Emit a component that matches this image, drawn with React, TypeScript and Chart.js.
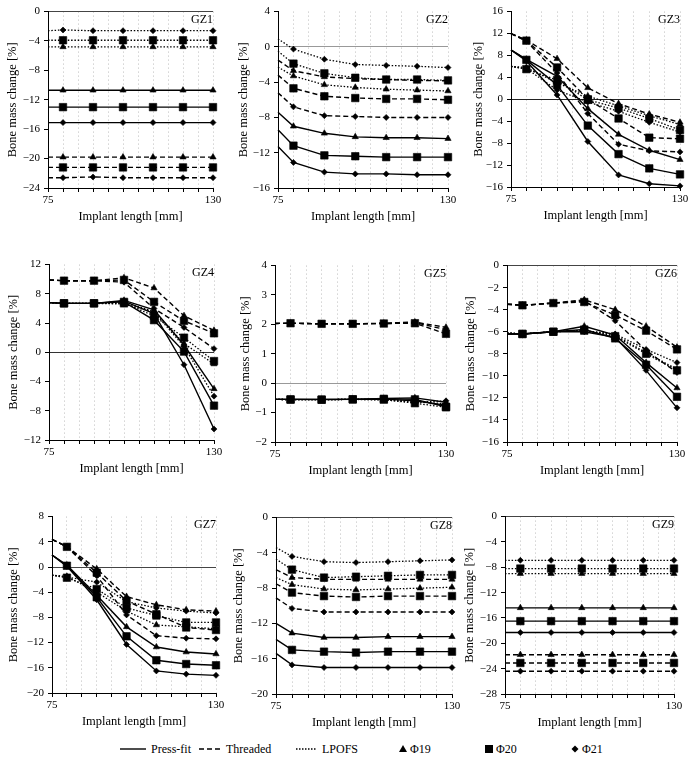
import React, { useEffect, useRef } from 'react';
import { Chart, registerables } from 'chart.js';

Chart.register(...registerables);

// ---------------- data ----------------
const xValues = [75, 80, 90, 100, 110, 120, 130];
const xTickLabels = [75, 130];
const styleNames = ['Press-fit', 'Threaded', 'LPOFS'];
const diameterNames = ['Φ19', 'Φ20', 'Φ21'];

// each group: [Φ19, Φ20, Φ21]
const gz1Press = [
  [-10.7, -10.7, -10.7, -10.7, -10.7, -10.7, -10.7],
  [-13.0, -13.0, -13.0, -13.0, -13.0, -13.0, -13.0],
  [-15.1, -15.1, -15.1, -15.1, -15.1, -15.1, -15.1],
];
const gz1Threaded = [
  [-19.8, -19.8, -19.8, -19.8, -19.8, -19.8, -19.8],
  [-21.2, -21.2, -21.2, -21.2, -21.2, -21.2, -21.2],
  [-22.6, -22.6, -22.5, -22.6, -22.6, -22.6, -22.6],
];
const gz1Lpofs = [
  [-4.8, -4.8, -4.8, -4.8, -4.8, -4.8, -4.8],
  [-3.9, -3.9, -3.9, -3.9, -3.9, -3.9, -3.9],
  [-2.6, -2.5, -2.6, -2.6, -2.6, -2.6, -2.6],
];

const gz2Press = [
  [-7.4, -9.0, -9.8, -10.2, -10.3, -10.3, -10.4],
  [-9.4, -11.2, -12.3, -12.4, -12.5, -12.5, -12.5],
  [-11.3, -13.1, -14.2, -14.4, -14.4, -14.5, -14.5],
];
const gz2Threaded = [
  [-1.5, -2.7, -3.4, -3.6, -3.7, -3.8, -3.85],
  [-3.2, -4.7, -5.6, -5.8, -5.9, -5.9, -6.0],
  [-5.2, -6.8, -7.8, -7.9, -8.0, -8.0, -8.0],
];
const gz2Lpofs = [
  [-2.3, -3.3, -4.3, -4.6, -4.8, -4.9, -5.0],
  [-0.5, -1.9, -3.0, -3.5, -3.7, -3.7, -3.8],
  [0.9, -0.25, -1.4, -2.0, -2.1, -2.2, -2.35],
];

const gz3Press = [
  [9.0, 7.3, 4.2, -1.7, -6.4, -9.3, -11.0],
  [9.0, 7.2, 2.6, -4.8, -10.0, -12.6, -13.7],
  [9.0, 7.0, 0.8, -7.7, -13.8, -15.4, -15.8],
];
const gz3Threaded = [
  [12.0, 10.8, 7.4, 2.1, -0.8, -2.7, -4.2],
  [12.0, 10.7, 5.8, 0.0, -3.5, -7.0, -7.2],
  [12.0, 10.6, 4.8, -2.6, -8.2, -9.4, -9.6],
];
const gz3Lpofs = [
  [6.0, 5.8, 3.0, 0.6, -1.2, -3.0, -4.6],
  [6.0, 5.5, 3.5, -0.1, -1.6, -3.5, -5.6],
  [6.0, 5.6, 1.7, -0.5, -2.2, -4.2, -6.0],
];

const gz4Press = [
  [6.8, 6.7, 6.7, 7.1, 5.8, 1.0, -5.0],
  [6.8, 6.7, 6.7, 6.9, 4.4, 0.1, -7.3],
  [6.8, 6.7, 6.7, 7.0, 5.3, -1.7, -10.5],
];
const gz4Threaded = [
  [9.9, 9.8, 9.8, 10.2, 8.8, 5.0, 3.0],
  [9.9, 9.8, 9.8, 9.9, 6.9, 4.3, 2.6],
  [9.9, 9.8, 9.8, 9.6, 6.0, 3.4, 0.5],
];
const gz4Lpofs = [
  [6.8, 6.7, 6.7, 6.8, 5.6, 1.2, -1.6],
  [6.8, 6.7, 6.7, 6.7, 5.0, 2.0, -1.2],
  [6.8, 6.7, 6.7, 6.6, 5.5, 0.8, -6.0],
];

const gz5Press = [
  [-0.55, -0.55, -0.55, -0.55, -0.52, -0.5, -0.65],
  [-0.55, -0.55, -0.56, -0.55, -0.53, -0.55, -0.8],
  [-0.55, -0.55, -0.55, -0.55, -0.54, -0.6, -0.75],
];
const gz5Threaded = [
  [2.03, 2.04, 2.02, 2.02, 2.04, 2.08, 1.9],
  [2.03, 2.04, 2.02, 2.02, 2.03, 2.04, 1.68],
  [2.03, 2.04, 2.02, 2.02, 2.03, 2.06, 1.82],
];
const gz5Lpofs = [
  [-0.55, -0.56, -0.56, -0.55, -0.55, -0.62, -0.7],
  [-0.55, -0.56, -0.56, -0.55, -0.56, -0.68, -0.82],
  [-0.55, -0.56, -0.56, -0.55, -0.57, -0.65, -0.6],
];

const gz6Press = [
  [-6.2, -6.2, -6.0, -5.5, -6.3, -8.8, -11.1],
  [-6.2, -6.2, -6.0, -5.8, -6.6, -9.0, -11.9],
  [-6.2, -6.2, -6.0, -6.0, -6.5, -9.5, -12.9],
];
const gz6Threaded = [
  [-3.5, -3.6, -3.4, -3.1, -4.0, -5.5, -7.4],
  [-3.5, -3.6, -3.4, -3.3, -4.5, -5.9, -7.6],
  [-3.5, -3.6, -3.4, -3.2, -5.0, -7.7, -9.7],
];
const gz6Lpofs = [
  [-6.1, -6.2, -6.0, -5.9, -6.3, -7.9, -9.4],
  [-6.1, -6.2, -6.0, -5.9, -6.4, -8.0, -9.5],
  [-6.1, -6.2, -6.0, -5.9, -6.2, -7.6, -8.8],
];

const gz7Press = [
  [1.9, 0.3, -4.5, -9.5, -12.7, -13.5, -13.8],
  [1.9, 0.2, -4.8, -11.0, -14.8, -15.4, -15.6],
  [1.9, 0.1, -5.2, -12.3, -16.5, -17.0, -17.2],
];
const gz7Threaded = [
  [4.4, 3.2, -0.3, -4.7, -6.0, -6.8, -7.0],
  [4.4, 3.2, -0.9, -5.4, -7.5, -9.6, -10.0],
  [4.4, 3.2, -1.4, -7.6, -10.9, -11.3, -11.4],
];
const gz7Lpofs = [
  [-1.3, -1.5, -4.0, -7.0, -9.2, -9.5, -9.8],
  [-1.3, -1.7, -3.5, -6.5, -7.7, -8.8, -8.8],
  [-1.3, -1.6, -2.4, -5.5, -6.5, -7.0, -7.3],
];

const gz8Press = [
  [-12.0, -13.1, -13.6, -13.6, -13.5, -13.5, -13.5],
  [-13.8, -15.0, -15.2, -15.3, -15.2, -15.2, -15.2],
  [-15.4, -16.7, -17.0, -17.0, -17.0, -17.0, -17.0],
];
const gz8Threaded = [
  [-5.9, -6.8, -7.0, -7.0, -7.0, -7.0, -7.0],
  [-7.5, -8.5, -8.9, -9.0, -8.9, -8.9, -8.9],
  [-9.1, -10.3, -10.7, -10.7, -10.7, -10.7, -10.7],
];
const gz8Lpofs = [
  [-6.8, -7.6, -8.1, -8.2, -8.1, -8.0, -7.9],
  [-4.7, -5.9, -6.8, -6.7, -6.6, -6.5, -6.5],
  [-3.4, -4.4, -5.0, -5.1, -5.0, -4.9, -4.8],
];

const gz9Press = [
  [-14.4, -14.4, -14.4, -14.4, -14.4, -14.4, -14.4],
  [-16.5, -16.5, -16.5, -16.5, -16.5, -16.5, -16.5],
  [-18.3, -18.3, -18.3, -18.3, -18.3, -18.3, -18.3],
];
const gz9Threaded = [
  [-21.8, -21.8, -21.8, -21.8, -21.8, -21.8, -21.8],
  [-23.1, -23.1, -23.1, -23.1, -23.1, -23.1, -23.1],
  [-24.4, -24.4, -24.4, -24.4, -24.4, -24.4, -24.4],
];
const gz9Lpofs = [
  [-9.0, -9.0, -9.0, -9.0, -9.0, -9.0, -9.0],
  [-8.2, -8.2, -8.2, -8.2, -8.2, -8.2, -8.2],
  [-6.9, -6.9, -6.9, -6.9, -6.9, -6.9, -6.9],
];

const panelNames = ['GZ1', 'GZ2', 'GZ3', 'GZ4', 'GZ5', 'GZ6', 'GZ7', 'GZ8', 'GZ9'];
const panelSeries = [
  [gz1Press, gz1Threaded, gz1Lpofs],
  [gz2Press, gz2Threaded, gz2Lpofs],
  [gz3Press, gz3Threaded, gz3Lpofs],
  [gz4Press, gz4Threaded, gz4Lpofs],
  [gz5Press, gz5Threaded, gz5Lpofs],
  [gz6Press, gz6Threaded, gz6Lpofs],
  [gz7Press, gz7Threaded, gz7Lpofs],
  [gz8Press, gz8Threaded, gz8Lpofs],
  [gz9Press, gz9Threaded, gz9Lpofs],
];
// y axis [min, max, step]
const yRanges = [
  [-24, 0, 4], [-16, 4, 4], [-16, 16, 4],
  [-12, 12, 4], [-2, 4, 1], [-16, 0, 2],
  [-20, 8, 4], [-20, 0, 4], [-28, 0, 4],
];

// ---------------- layout / style ----------------
const FONT = '"Liberation Serif", "Times New Roman", serif';
// plot area rectangles [left, top, right, bottom] and y-title centre x
const plotRects = [
  [48, 11, 213, 188, 12], [278, 11, 448, 188, 243], [511, 11, 680, 187, 478],
  [49, 264, 214, 440, 13], [275, 265, 446, 442, 245], [507, 265, 677, 442, 470],
  [52, 516, 216, 693, 13], [276, 517, 452, 694, 238], [505, 516, 674, 694, 469],
];
const zeroColors = ['#444', '#999', '#222', '#333', '#999', '#444', '#444', '#444', '#444'];
const lineDashes = [[], [5, 3], [1.5, 1.8]];
const lineWidths = [1.4, 1.4, 1.3];
const markerStyles = ['triangle', 'rect', 'rectRot'];
const markerRadii = [3.6, 5.3, 3.0];

const PAD_TOP = 10;
const PAD_RIGHT = 14;
const X_AXIS_H = 40;
const TITLE_FONT = 12.5;
const TICK_FONT = 11;

const fmt = (v: number) => (v < 0 ? '\u2212' + Math.abs(v) : String(v));

const gzLabelPlugin = {
  id: 'gzLabel',
  afterDraw(chart: any, _args: any, opts: any) {
    const { ctx, chartArea } = chart;
    ctx.save();
    ctx.font = `12px ${FONT}`;
    ctx.fillStyle = '#000';
    ctx.textAlign = 'right';
    ctx.textBaseline = 'middle';
    ctx.fillText(opts.text, chartArea.right, chartArea.top + 8);
    ctx.restore();
  },
};

function Panel({ idx }: { idx: number }) {
  const ref = useRef<HTMLCanvasElement>(null);
  const [pl, pt, pr, pb, tx] = plotRects[idx];
  const titleOffset = 2 + (TITLE_FONT * 1.2) / 2;
  const left = Math.round(tx - titleOffset);
  const top = pt - PAD_TOP;
  const width = pr + PAD_RIGHT - left;
  const height = pb - top + X_AXIS_H;
  const yAxisW = pl - left;

  useEffect(() => {
    const datasets: any[] = [];
    panelSeries[idx].forEach((group, si) => {
      group.forEach((vals, di) => {
        datasets.push({
          label: `${styleNames[si]} ${diameterNames[di]}`,
          data: vals.map((v, i) => ({ x: xValues[i], y: v })),
          borderColor: '#000',
          backgroundColor: '#000',
          borderWidth: lineWidths[si],
          borderDash: lineDashes[si],
          pointStyle: markerStyles[di],
          pointRadius: (c: any) => (c.dataIndex === 0 ? 0 : markerRadii[di]),
          pointBorderWidth: 0.6,
          pointBorderColor: '#000',
          pointBackgroundColor: '#000',
          tension: 0,
          clip: false,
        });
      });
    });
    const [yMin, yMax, yStep] = yRanges[idx];
    const chart = new Chart(ref.current as HTMLCanvasElement, {
      type: 'line',
      data: { datasets },
      plugins: [gzLabelPlugin],
      options: {
        animation: false,
        responsive: false,
        events: [],
        layout: { padding: { top: PAD_TOP, right: PAD_RIGHT, left: 0, bottom: 0 } },
        plugins: {
          legend: { display: false },
          tooltip: { enabled: false },
          gzLabel: { text: panelNames[idx] },
        } as any,
        scales: {
          x: {
            type: 'linear',
            min: 75,
            max: 130,
            ticks: {
              stepSize: 5,
              autoSkip: false,
              maxRotation: 0,
              padding: 2,
              color: '#000',
              font: { family: FONT, size: TICK_FONT },
              callback: (v: any) => (xTickLabels.includes(v) ? String(v) : ''),
            },
            grid: {
              drawOnChartArea: true,
              color: (c: any) => (c.tick && c.tick.value === 75 ? 'rgba(0,0,0,0)' : '#b4b4b4'),
              lineWidth: 0.9,
              tickColor: '#000',
              tickLength: 4,
              tickWidth: 1,
              tickBorderDash: [],
            },
            border: { display: true, color: '#000', width: 1, dash: [1, 3] },
            title: {
              display: true,
              text: 'Implant length [mm]',
              color: '#000',
              font: { family: FONT, size: TITLE_FONT },
              padding: { top: 2, bottom: 4 },
            },
            afterFit: (s: any) => {
              s.height = X_AXIS_H;
            },
          },
          y: {
            type: 'linear',
            min: yMin,
            max: yMax,
            ticks: {
              stepSize: yStep,
              padding: 4,
              color: '#000',
              font: { family: FONT, size: TICK_FONT },
              callback: (v: any) => fmt(v),
            },
            grid: {
              drawOnChartArea: true,
              color: (c: any) => (c.tick && c.tick.value === 0 ? zeroColors[idx] : 'rgba(0,0,0,0)'),
              lineWidth: 1,
              tickColor: '#000',
              tickLength: 4,
              tickWidth: 1,
            },
            border: { display: true, color: '#000', width: 1 },
            title: {
              display: true,
              text: 'Bone mass change [%]',
              color: '#000',
              font: { family: FONT, size: TITLE_FONT },
              padding: { top: 2, bottom: 2 },
            },
            afterFit: (s: any) => {
              s.width = yAxisW;
            },
          },
        },
      } as any,
    });
    return () => chart.destroy();
  }, [idx]);

  return (
    <canvas
      ref={ref}
      width={width}
      height={height}
      style={{ position: 'absolute', left, top, width, height }}
    />
  );
}

const legendLines = [
  { label: 'Press-fit', dash: '', x1: 120, x2: 146 },
  { label: 'Threaded', dash: '5 3', x1: 199, x2: 221 },
  { label: 'LPOFS', dash: '1.5 1.5', x1: 296, x2: 317 },
];
const legendMarkers = [
  { label: 'Φ19', shape: 'triangle', cx: 403 },
  { label: 'Φ20', shape: 'square', cx: 489 },
  { label: 'Φ21', shape: 'diamond', cx: 575 },
];
const LEGEND_Y = 749;

function Legend() {
  const textStyle: React.CSSProperties = {
    position: 'absolute',
    top: LEGEND_Y - 8,
    fontFamily: FONT,
    fontSize: 12,
    lineHeight: '16px',
    color: '#000',
    whiteSpace: 'nowrap',
  };
  return (
    <>
      <svg
        width={694}
        height={20}
        style={{ position: 'absolute', left: 0, top: LEGEND_Y - 10 }}
      >
        {legendLines.map((l) => (
          <line
            key={l.label}
            x1={l.x1}
            x2={l.x2}
            y1={10}
            y2={10}
            stroke="#000"
            strokeWidth={1.4}
            strokeDasharray={l.dash || undefined}
          />
        ))}
        {legendMarkers.map((m) =>
          m.shape === 'triangle' ? (
            <polygon key={m.label} points={`${m.cx},6 ${m.cx + 4},13 ${m.cx - 4},13`} fill="#000" />
          ) : m.shape === 'square' ? (
            <rect key={m.label} x={m.cx - 4} y={6} width={8} height={8} fill="#000" />
          ) : (
            <polygon
              key={m.label}
              points={`${m.cx},6.5 ${m.cx + 3.5},10 ${m.cx},13.5 ${m.cx - 3.5},10`}
              fill="#000"
            />
          )
        )}
      </svg>
      {legendLines.map((l) => (
        <div key={l.label} style={{ ...textStyle, left: l.x2 + 5 }}>
          {l.label}
        </div>
      ))}
      {legendMarkers.map((m) => (
        <div key={m.label} style={{ ...textStyle, left: m.cx + 7 }}>
          {m.label}
        </div>
      ))}
    </>
  );
}

export default function App() {
  return (
    <div
      style={{
        position: 'absolute',
        left: 0,
        top: 0,
        width: 694,
        height: 761,
        background: '#fff',
        overflow: 'hidden',
      }}
    >
      {panelNames.map((_, i) => (
        <Panel key={i} idx={i} />
      ))}
      <Legend />
    </div>
  );
}
